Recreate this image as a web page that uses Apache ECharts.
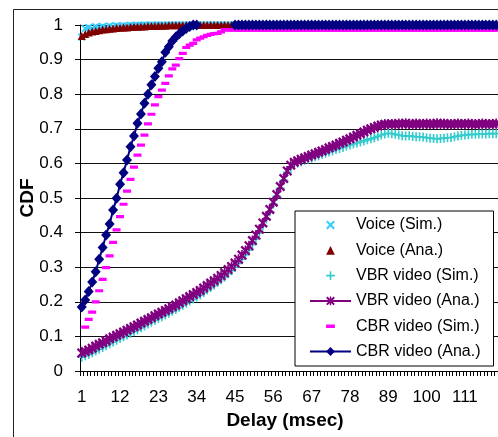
<!DOCTYPE html>
<html>
<head>
<meta charset="utf-8">
<title>Delay CDF</title>
<script src="https://cdn.jsdelivr.net/npm/echarts@6/dist/echarts.min.js"></script>
<style>
    html, body { margin: 0; padding: 0; background: #fff; }
    #chart { width: 498px; height: 437px; }
</style>
</head>
<body>
<div id="chart"></div>
<script>
/**
 * Delay CDF for voice / VBR video / CBR video, simulation vs analysis.
 * Values (delay in msec, 1..120).
 */

const delays = [];
for (let d = 1; d <= 120; d++) delays.push(String(d));

const yTicks = [0, 0.1, 0.2, 0.3, 0.4, 0.5, 0.6, 0.7, 0.8, 0.9, 1];

const voiceSim = [
    0.965, 0.99, 0.993, 0.99, 0.995, 0.992, 0.996, 0.993, 0.997, 0.995, 0.998, 0.996, 0.998, 0.997, 0.999, 0.998, 0.999, 0.999, 1, 0.999,
    1, 0.999, 1, 1, 0.999, 1, 1, 1, 1, 1, 1, 1, 1, 1, 1, 1, 1, 1, 1, 1,
    1, 1, 1, 1, 1, 1, 1, 1, 1, 1, 1, 1, 1, 1, 1, 1, 1, 1, 1, 1,
    1, 1, 1, 1, 1, 1, 1, 1, 1, 1, 1, 1, 1, 1, 1, 1, 1, 1, 1, 1,
    1, 1, 1, 1, 1, 1, 1, 1, 1, 1, 1, 1, 1, 1, 1, 1, 1, 1, 1, 1,
    1, 1, 1, 1, 1, 1, 1, 1, 1, 1, 1, 1, 1, 1, 1, 1, 1, 1, 1, 1
];

const voiceAna = [
    0.968, 0.974, 0.978, 0.981, 0.983, 0.985, 0.987, 0.988, 0.989, 0.99, 0.991, 0.992, 0.993, 0.993, 0.994, 0.995, 0.995, 0.996, 0.996, 0.997,
    0.997, 0.997, 0.998, 0.998, 0.998, 0.999, 0.999, 0.999, 0.999, 0.999, 1, 1, 1, 1, 1, 1, 1, 1, 1, 1,
    1, 1, 1, 1, 1, 1, 1, 1, 1, 1, 1, 1, 1, 1, 1, 1, 1, 1, 1, 1,
    1, 1, 1, 1, 1, 1, 1, 1, 1, 1, 1, 1, 1, 1, 1, 1, 1, 1, 1, 1,
    1, 1, 1, 1, 1, 1, 1, 1, 1, 1, 1, 1, 1, 1, 1, 1, 1, 1, 1, 1,
    1, 1, 1, 1, 1, 1, 1, 1, 1, 1, 1, 1, 1, 1, 1, 1, 1, 1, 1, 1
];

const vbrSim = [
    0.04, 0.044, 0.048, 0.053, 0.058, 0.063, 0.068, 0.073, 0.079, 0.084, 0.089, 0.094, 0.099, 0.104, 0.109, 0.114, 0.119, 0.125, 0.13, 0.136,
    0.141, 0.147, 0.152, 0.157, 0.162, 0.167, 0.173, 0.178, 0.184, 0.19, 0.196, 0.202, 0.208, 0.214, 0.22, 0.227, 0.234, 0.241, 0.248, 0.256,
    0.264, 0.272, 0.281, 0.29, 0.3, 0.311, 0.323, 0.336, 0.35, 0.366, 0.382, 0.4, 0.419, 0.439, 0.46, 0.482, 0.505, 0.528, 0.551, 0.574,
    0.59, 0.597, 0.601, 0.605, 0.609, 0.612, 0.615, 0.619, 0.622, 0.626, 0.629, 0.633, 0.636, 0.64, 0.643, 0.646, 0.65, 0.653, 0.656, 0.659,
    0.662, 0.665, 0.668, 0.671, 0.674, 0.678, 0.682, 0.685, 0.687, 0.686, 0.684, 0.682, 0.68, 0.679, 0.68, 0.678, 0.677, 0.677, 0.676, 0.674,
    0.673, 0.672, 0.671, 0.672, 0.673, 0.674, 0.675, 0.677, 0.679, 0.681, 0.682, 0.683, 0.684, 0.684, 0.685, 0.685, 0.685, 0.686, 0.686, 0.686
];

const vbrAna = [
    0.052, 0.056, 0.061, 0.066, 0.072, 0.077, 0.082, 0.087, 0.093, 0.098, 0.103, 0.108, 0.113, 0.118, 0.123, 0.128, 0.133, 0.139, 0.144, 0.149,
    0.154, 0.16, 0.165, 0.17, 0.175, 0.18, 0.186, 0.191, 0.197, 0.203, 0.209, 0.215, 0.221, 0.227, 0.233, 0.24, 0.247, 0.254, 0.261, 0.268,
    0.276, 0.284, 0.293, 0.302, 0.312, 0.323, 0.335, 0.348, 0.362, 0.377, 0.393, 0.41, 0.428, 0.447, 0.467, 0.488, 0.51, 0.533, 0.556, 0.578,
    0.595, 0.603, 0.608, 0.612, 0.616, 0.62, 0.624, 0.628, 0.632, 0.636, 0.64, 0.645, 0.649, 0.653, 0.658, 0.662, 0.667, 0.671, 0.676, 0.681,
    0.686, 0.691, 0.696, 0.7, 0.704, 0.708, 0.711, 0.713, 0.714, 0.714, 0.713, 0.715, 0.714, 0.716, 0.714, 0.713, 0.715, 0.714, 0.714, 0.715,
    0.713, 0.714, 0.716, 0.714, 0.715, 0.714, 0.713, 0.714, 0.715, 0.714, 0.714, 0.715, 0.714, 0.713, 0.714, 0.715, 0.714, 0.714, 0.714, 0.715
];

const cbrSim = [
    null, 0.127, 0.149, 0.17, 0.2, 0.232, 0.265, 0.299, 0.333, 0.372, 0.408, 0.446, 0.482, 0.52, 0.554, 0.589, 0.624, 0.653, 0.682, 0.714,
    0.742, 0.769, 0.793, 0.812, 0.831, 0.853, 0.873, 0.884, 0.903, 0.918, 0.935, 0.942, 0.947, 0.957, 0.962, 0.966, 0.97, 0.973, 0.975, 0.976,
    0.98, 0.987, 0.985, 0.986, 0.985, 0.985, 0.985, 0.985, 0.985, 0.985, 0.985, 0.985, 0.985, 0.985, 0.985, 0.985, 0.985, 0.985, 0.985, 0.985,
    0.985, 0.985, 0.985, 0.985, 0.985, 0.985, 0.985, 0.985, 0.985, 0.985, 0.985, 0.985, 0.985, 0.985, 0.985, 0.985, 0.985, 0.985, 0.985, 0.985,
    0.985, 0.985, 0.985, 0.985, 0.985, 0.985, 0.985, 0.985, 0.985, 0.985, 0.985, 0.985, 0.985, 0.985, 0.985, 0.985, 0.985, 0.985, 0.985, 0.985,
    0.985, 0.985, 0.985, 0.985, 0.985, 0.985, 0.985, 0.985, 0.985, 0.985, 0.985, 0.985, 0.985, 0.985, 0.985, 0.985, 0.985, 0.985, 0.985, 0.985
];

const cbrAna = [
    0.185, 0.205, 0.23, 0.257, 0.287, 0.323, 0.357, 0.393, 0.425, 0.465, 0.499, 0.54, 0.573, 0.61, 0.648, 0.679, 0.716, 0.743, 0.774, 0.8,
    0.827, 0.851, 0.875, 0.894, 0.921, 0.937, 0.954, 0.965, 0.975, 0.983, 0.99, 0.996, 1, 1, null, null, null, null, null, null,
    null, null, null, null, 1, 1, 1, 1, 1, 1, 1, 1, 1, 1, 1, 1, 1, 1, 1, 1,
    1, 1, 1, 1, 1, 1, 1, 1, 1, 1, 1, 1, 1, 1, 1, 1, 1, 1, 1, 1,
    1, 1, 1, 1, 1, 1, 1, 1, 1, 1, 1, 1, 1, 1, 1, 1, 1, 1, 1, 1,
    1, 1, 1, 1, 1, 1, 1, 1, 1, 1, 1, 1, 1, 1, 1, 1, 1, 1, 1, 1
];

// Marker shapes (Excel-like). Tiny zero-area subpaths keep a square bounding box.
const SYM_X = 'path://M0 1.6L1.6 0L10 8.4L8.4 10Z M8.4 0L10 1.6L1.6 10L0 8.4Z';
const SYM_PLUS = 'path://M4.1 0H5.9V4.1H10V5.9H5.9V10H4.1V5.9H0V4.1H4.1Z';
const SYM_STAR = 'path://M4.2 0H5.8V10H4.2Z M0 1.6L1.6 0L10 8.4L8.4 10Z M8.4 0L10 1.6L1.6 10L0 8.4Z';
const SYM_DASH = 'path://M0 0L0.01 0Z M0 3H10V7H0Z M0 10L0.01 10Z';

const FONT = '"Liberation Sans", Arial, sans-serif';

/**
 * Build a marker-only series (line type so legend keeps the symbol square)
 */
function markerSeries(name, data, symbol, size, color) {
    return {
        name,
        type: 'line',
        data,
        symbol,
        symbolSize: size,
        showAllSymbol: true,
        clip: false,
        itemStyle: { color, borderWidth: 0 },
        lineStyle: { width: 0, opacity: 0 },
        emphasis: { disabled: true },
    };
}

/**
 * Build a line + marker series
 */
function lineSeries(name, data, symbol, size, color, width) {
    return {
        name,
        type: 'line',
        data,
        symbol,
        symbolSize: size,
        showAllSymbol: true,
        clip: false,
        connectNulls: false,
        itemStyle: { color, borderWidth: 0 },
        lineStyle: { color, width },
        emphasis: { disabled: true },
    };
}

const chart = echarts.init(document.getElementById('chart'), null, { renderer: 'canvas' });

const hidden = { opacity: 0 };

chart.setOption({
    animation: false,
    backgroundColor: '#fff',
    textStyle: { fontFamily: FONT, color: '#000' },
    graphic: [{
        type: 'rect',
        z: -10,
        shape: { x: 13.5, y: 9.5, width: 600, height: 600 },
        style: { fill: 'none', stroke: '#222', lineWidth: 1 },
    }],
    grid: { left: 80, top: 25, right: -20, bottom: 66, containLabel: false },
    legend: {
        orient: 'vertical',
        left: 295,
        top: 211,
        padding: [5.5, 13, 6, 14],
        backgroundColor: '#fff',
        borderColor: '#000',
        borderWidth: 1,
        itemWidth: 41,
        itemHeight: 11,
        itemGap: 8.3,
        selectedMode: false,
        textStyle: { fontFamily: FONT, fontSize: 16, lineHeight: 17, color: '#000' },
        data: [
            { name: 'Voice (Sim.)', lineStyle: hidden },
            { name: 'Voice (Ana.)', lineStyle: hidden },
            { name: 'VBR video (Sim.)', lineStyle: hidden },
            { name: 'VBR video (Ana.)' },
            { name: 'CBR video (Sim.)', lineStyle: hidden },
            { name: 'CBR video (Ana.)' },
        ],
    },
    xAxis: {
        type: 'category',
        data: delays,
        boundaryGap: true,
        name: 'Delay (msec)',
        nameLocation: 'middle',
        nameGap: 39,
        nameTextStyle: { fontFamily: FONT, fontSize: 19, fontWeight: 'bold', color: '#000', padding: [0, 8, 0, 0] },
        axisLine: { show: true, lineStyle: { color: '#000', width: 1 } },
        axisTick: { show: true, interval: 0, length: 5, lineStyle: { color: '#000' } },
        axisLabel: { interval: 10, margin: 18, fontSize: 17, fontFamily: FONT, color: '#000' },
        splitLine: { show: false },
    },
    yAxis: {
        type: 'value',
        min: yTicks[0],
        max: yTicks[yTicks.length - 1],
        interval: 0.1,
        name: 'CDF',
        nameLocation: 'middle',
        nameGap: 43,
        nameMoveOverlap: false,
        nameTextStyle: { fontFamily: FONT, fontSize: 19, fontWeight: 'bold', color: '#000' },
        axisLine: { show: true, lineStyle: { color: '#000', width: 1 } },
        axisTick: { show: true, length: 5, lineStyle: { color: '#000' } },
        axisLabel: { margin: 17, fontSize: 17, fontFamily: FONT, color: '#000' },
        splitLine: { show: true, lineStyle: { color: '#111', width: 1 } },
    },
    series: [
        markerSeries('Voice (Sim.)', voiceSim, SYM_X, 8, '#33CCFF'),
        markerSeries('Voice (Ana.)', voiceAna, 'triangle', 8, '#800000'),
        markerSeries('VBR video (Sim.)', vbrSim, SYM_PLUS, 9, '#33CCCC'),
        lineSeries('VBR video (Ana.)', vbrAna, SYM_STAR, 10, '#800080', 1.5),
        markerSeries('CBR video (Sim.)', cbrSim, SYM_DASH, 8, '#FF00FF'),
        lineSeries('CBR video (Ana.)', cbrAna, 'diamond', [10, 11], '#000080', 2),
    ],
});
</script>
</body>
</html>
